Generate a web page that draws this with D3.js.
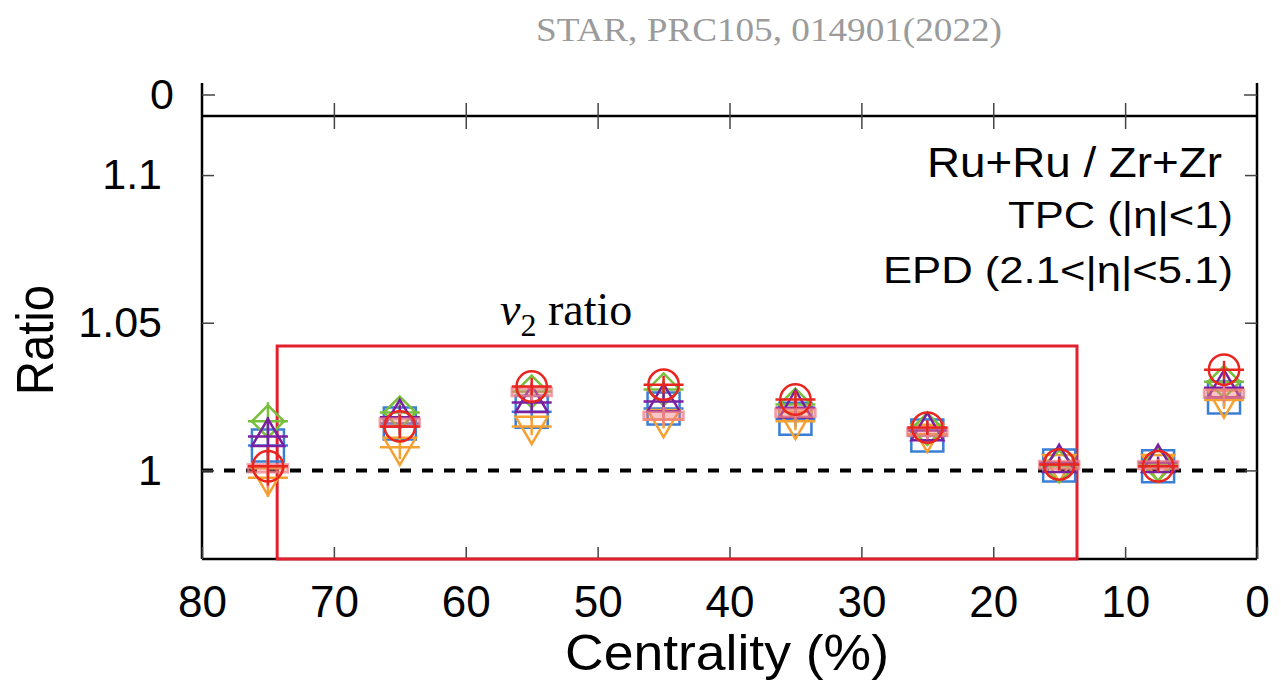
<!DOCTYPE html>
<html><head><meta charset="utf-8">
<script src="https://cdn.jsdelivr.net/npm/d3@7"></script>
<style>body{margin:0;background:#fff;}svg{display:block;}</style>
</head><body>
<svg id="chart" width="1281" height="689"></svg>
<script>
// ---- data ----
const centrality = [75, 65, 55, 45, 35, 25, 15, 7.5, 2.5];
const xTicks = [80, 70, 60, 50, 40, 30, 20, 10, 0];
const yTicks = [1, 1.05, 1.1];
const ratioBlueSquare   = [1.0084, 1.0159, 1.0199, 1.0210, 1.0175, 1.0118, 1.0017, 1.0014, 1.0247];
const ratioOrangeDown   = [0.9975, 1.0078, 1.0149, 1.0172, 1.0166, 1.0122, 1.0020, 1.0020, 1.0238];
const ratioGreenDiamond = [1.0166, 1.0196, 1.0267, 1.0274, 1.0223, 1.0140, 1.0014, 1.0020, 1.0300];
const ratioPurpleUp     = [1.0115, 1.0180, 1.0230, 1.0233, 1.0212, 1.0135, 1.0027, 1.0027, 1.0280];
const ratioPinkBox      = [1.0007, 1.0162, 1.0265, 1.0185, 1.0195, 1.0130, 1.0018, 1.0018, 1.0260];
const ratioRedCircle    = [1.0014, 1.0149, 1.0284, 1.0290, 1.0240, 1.0145, 1.0020, 1.0014, 1.0341];
const statErr = [0.0065, 0.004, 0.003, 0.003, 0.003, 0.0025, 0.002, 0.002, 0.003];

const series = [
  {name: 'square',  values: ratioBlueSquare,   color: '#3a7fd5'},
  {name: 'down',    values: ratioOrangeDown,   color: '#f5a033'},
  {name: 'diamond', values: ratioGreenDiamond, color: '#78bf3c'},
  {name: 'up',      values: ratioPurpleUp,     color: '#7b1fa2'},
  {name: 'box',     values: ratioPinkBox,      color: '#ef7f86'},
  {name: 'circle',  values: ratioRedCircle,    color: '#e8251f'}
];

// ---- layout ----
const svg = d3.select('#chart');
const L = 202, R = 1257, B = 559, T = 116, AX_TOP = 83;
const x = d3.scaleLinear().domain([80, 0]).range([L, R]);
const y = d3.scaleLinear().domain([0.97, 1.12]).range([B, T]);

// title
svg.append('text').attr('x', 769).attr('y', 41).attr('text-anchor', 'middle')
  .attr('font-family', 'Liberation Serif, Times New Roman, serif').attr('font-size', 33)
  .attr('fill', '#9b9b9b').attr('textLength', 466).attr('lengthAdjust', 'spacingAndGlyphs')
  .text('STAR, PRC105, 014901(2022)');

// reference dashed line at 1
svg.append('line').attr('x1', L).attr('x2', R - 4).attr('y1', y(1)).attr('y2', y(1))
  .attr('stroke', '#000').attr('stroke-width', 4).attr('stroke-dasharray', '11,11');

// frame lines
const frame = svg.append('g').attr('stroke', '#000').attr('stroke-width', 2.5).attr('fill', 'none');
frame.append('line').attr('x1', L).attr('x2', L).attr('y1', AX_TOP).attr('y2', B);
frame.append('line').attr('x1', R).attr('x2', R).attr('y1', AX_TOP).attr('y2', B);
frame.append('line').attr('x1', L).attr('x2', R).attr('y1', B).attr('y2', B);
frame.append('line').attr('x1', L).attr('x2', R).attr('y1', T).attr('y2', T);

// axes using d3 axis generators
const font = 'Liberation Sans, Arial, Helvetica, sans-serif';
const xAxis = svg.append('g').attr('transform', `translate(0,${B})`)
  .call(d3.axisBottom(x).tickValues(xTicks).tickSizeInner(-12).tickSizeOuter(0).tickPadding(34).tickFormat(d3.format('d')));
xAxis.select('.domain').remove();
xAxis.selectAll('line').attr('stroke', '#444').attr('stroke-width', 1.5);
xAxis.selectAll('text').attr('font-family', font).attr('font-size', 44).attr('fill', '#000')
  .attr('dy', '0.55em');

const xAxisTop = svg.append('g').attr('transform', `translate(0,${T})`)
  .call(d3.axisTop(x).tickValues(xTicks.filter(d => d > 0 && d < 80)).tickSizeInner(13).tickSizeOuter(0).tickFormat(''));
xAxisTop.select('.domain').remove();
xAxisTop.selectAll('line').attr('stroke', '#444').attr('stroke-width', 1.5).attr('y1', 13);

const yAxis = svg.append('g').attr('transform', `translate(${L},0)`)
  .call(d3.axisLeft(y).tickValues(yTicks).tickSizeInner(-12).tickSizeOuter(0).tickPadding(40)
    .tickFormat(d => d === 1 ? '1' : d3.format('.3~f')(d)));
yAxis.select('.domain').remove();
yAxis.selectAll('line').attr('stroke', '#444').attr('stroke-width', 1.5);
yAxis.selectAll('text').attr('font-family', font).attr('font-size', 43).attr('fill', '#000');

const yAxisR = svg.append('g').attr('transform', `translate(${R},0)`)
  .call(d3.axisRight(y).tickValues(yTicks).tickSizeInner(-12).tickSizeOuter(0).tickFormat(''));
yAxisR.select('.domain').remove();
yAxisR.selectAll('line').attr('stroke', '#444').attr('stroke-width', 1.5);

// upper panel remnant: tick "0"
const upperTickY = 95;
svg.append('line').attr('x1', L).attr('x2', L + 13).attr('y1', upperTickY).attr('y2', upperTickY).attr('stroke', '#444').attr('stroke-width', 1.5);
svg.append('line').attr('x1', R).attr('x2', R - 13).attr('y1', upperTickY).attr('y2', upperTickY).attr('stroke', '#444').attr('stroke-width', 1.5);
svg.append('text').attr('x', 174).attr('y', upperTickY).attr('dy', '0.32em').attr('text-anchor', 'end')
  .attr('font-family', font).attr('font-size', 43).text('0');

// axis titles
svg.append('text').attr('transform', 'translate(53,340) rotate(-90)').attr('text-anchor', 'middle')
  .attr('font-family', font).attr('font-size', 52).attr('textLength', 110).attr('lengthAdjust', 'spacingAndGlyphs')
  .text('Ratio');
svg.append('text').attr('x', 727).attr('y', 670).attr('text-anchor', 'middle')
  .attr('font-family', font).attr('font-size', 50).attr('textLength', 324).attr('lengthAdjust', 'spacingAndGlyphs')
  .text('Centrality (%)');

// legend-ish text
svg.append('text').attr('x', 1222).attr('y', 177).attr('text-anchor', 'end')
  .attr('font-family', font).attr('font-size', 42).attr('textLength', 295).attr('lengthAdjust', 'spacingAndGlyphs')
  .text('Ru+Ru / Zr+Zr');
svg.append('text').attr('x', 1233).attr('y', 228).attr('text-anchor', 'end')
  .attr('font-family', font).attr('font-size', 36).attr('textLength', 225).attr('lengthAdjust', 'spacingAndGlyphs')
  .text('TPC (|η|<1)');
svg.append('text').attr('x', 1233).attr('y', 283).attr('text-anchor', 'end')
  .attr('font-family', font).attr('font-size', 36).attr('textLength', 350).attr('lengthAdjust', 'spacingAndGlyphs')
  .text('EPD (2.1<|η|<5.1)');

// red highlight box
svg.append('rect').attr('x', x(74.3)).attr('y', 346).attr('width', x(13.65) - x(74.3)).attr('height', B - 346)
  .attr('fill', 'none').attr('stroke', '#e3202e').attr('stroke-width', 3);

// v2 ratio label
const vt = svg.append('text').attr('x', 500).attr('y', 325)
  .attr('font-family', 'Liberation Serif, Times New Roman, serif').attr('font-size', 46);
vt.append('tspan').attr('font-style', 'italic').text('v');
vt.append('tspan').attr('font-size', 32).attr('dy', 11).text('2');
vt.append('tspan').attr('dy', -11).text(' ratio');

// ---- markers ----
const markerPath = {
  square:  s => `M${-s},${-s}H${s}V${s}H${-s}Z`,
  circle:  s => { const r = s * 0.95; return `M${r},0A${r},${r} 0 1,1 ${-r},0A${r},${r} 0 1,1 ${r},0Z`; },
  diamond: s => `M0,${-s}L${s},0L0,${s}L${-s},0Z`,
  up:      s => `M0,${-s * 1.1}L${s},${s * 0.6}L${-s},${s * 0.6}Z`,
  down:    s => `M0,${s * 1.1}L${s},${-s * 0.6}L${-s},${-s * 0.6}Z`
};
const plot = svg.append('g');
series.forEach(sr => {
  const g = plot.append('g').attr('stroke', sr.color).attr('fill', 'none').attr('stroke-width', 2.5);
  centrality.forEach((c, i) => {
    const cx = x(c), cy = y(sr.values[i]);
    g.append('line').attr('x1', cx).attr('x2', cx)
      .attr('y1', y(sr.values[i] + statErr[i])).attr('y2', y(sr.values[i] - statErr[i]));
    if (sr.name === 'box') {
      g.append('rect').attr('x', cx - 20).attr('y', cy - 4).attr('width', 40).attr('height', 8)
        .attr('fill', sr.color).attr('fill-opacity', 0.45).attr('stroke-opacity', 0.7);
    } else {
      g.append('line').attr('x1', cx - 20).attr('x2', cx + 20).attr('y1', cy).attr('y2', cy);
      g.append('path').attr('transform', `translate(${cx},${cy})`).attr('d', markerPath[sr.name](16));
    }
  });
});
</script>
</body></html>
